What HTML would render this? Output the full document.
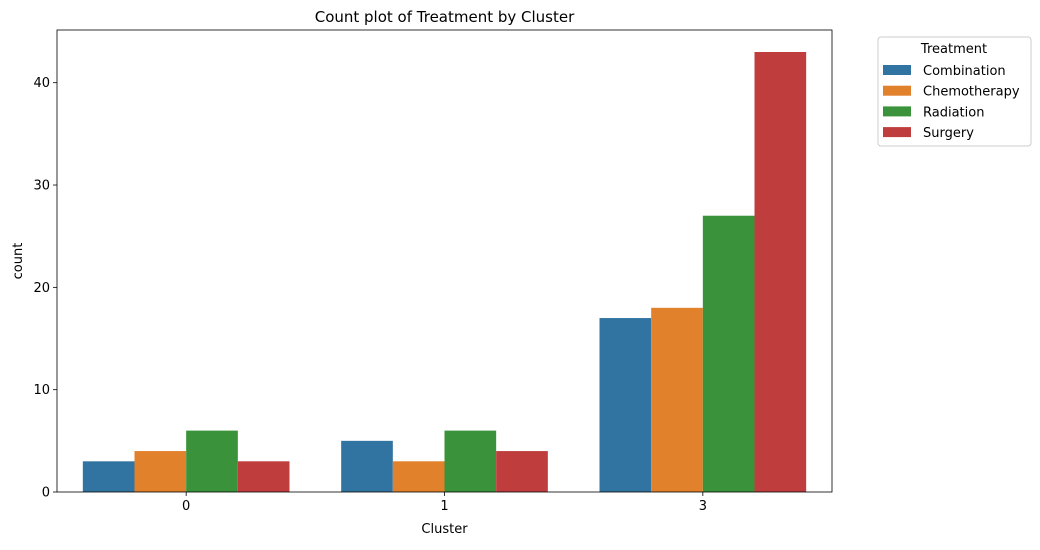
<!DOCTYPE html>
<html><head><meta charset="utf-8"><style>
body{margin:0;background:#fff;font-family:"Liberation Sans","DejaVu Sans",sans-serif}
svg text{font-family:"DejaVu Sans","Liberation Sans",sans-serif;fill:#000}
</style></head><body>
<svg id="chart" width="1040" height="545" xmlns="http://www.w3.org/2000/svg"></svg>
<script>
const categories = ["0", "1", "3"];
const seriesNames = ["Combination", "Chemotherapy", "Radiation", "Surgery"];
const combination = [3, 5, 17];
const chemotherapy = [4, 3, 18];
const radiation = [6, 6, 27];
const surgery = [3, 4, 43];
const yTicks = [0, 10, 20, 30, 40];
const colors = ["#3274a1", "#e1812c", "#3a923a", "#c03d3e"];
const series = [combination, chemotherapy, radiation, surgery];

const svg = document.getElementById('chart');
const NS = 'http://www.w3.org/2000/svg';
const L = 57, R = 832, T = 30, B = 492;
const yMax = 45.15;
function y(v){ return B - v / yMax * (B - T); }
const step = (R - L) / categories.length;
function xc(i){ return L + step * (i + 0.5); }
const groupW = step * 0.8, barW = groupW / series.length;

function mk(tag, attrs, parent){
  const e = document.createElementNS(NS, tag);
  for (const k in attrs) e.setAttribute(k, attrs[k]);
  (parent || svg).appendChild(e);
  return e;
}

// bars
series.forEach((s, si) => {
  s.forEach((v, ci) => {
    const r = mk('rect', {x: xc(ci) - groupW/2 + si*barW, y: y(v), width: barW, height: y(0) - y(v), fill: colors[si]});
    
    
  });
});

// axes frame
const frame = mk('rect', {x: L, y: T, width: R - L, height: B - T, fill: 'none', stroke: '#000', 'stroke-width': 0.8});



// y ticks
yTicks.forEach(t => {
  mk('line', {x1: L - 4, x2: L, y1: y(t), y2: y(t), stroke: '#000', 'stroke-width': 0.8});
  const tx = mk('text', {x: L - 7, y: y(t) + 4.5, 'text-anchor': 'end', 'font-size': 13});
  tx.textContent = t;
  
  
});
// x ticks
categories.forEach((c, i) => {
  mk('line', {x1: xc(i), x2: xc(i), y1: B, y2: B + 4, stroke: '#000', 'stroke-width': 0.8});
  const tx = mk('text', {x: xc(i), y: B + 18, 'text-anchor': 'middle', 'font-size': 13});
  tx.textContent = c;
  
  
});

const xt = mk('text', {x: (L + R)/2, y: 533, 'text-anchor': 'middle', 'font-size': 13});
xt.textContent = 'Cluster';



const yt = mk('text', {x: 22, y: (T + B)/2, 'text-anchor': 'middle', 'font-size': 13, transform: 'rotate(-90 22 ' + (T + B)/2 + ')'});
yt.textContent = 'count';



const tt = mk('text', {x: (L + R)/2, y: 22, 'text-anchor': 'middle', 'font-size': 15});
tt.textContent = 'Count plot of Treatment by Cluster';



// legend
const lg = mk('g', {});


mk('rect', {x: 878, y: 37, width: 153, height: 109, rx: 3, fill: '#fff', stroke: '#ccc', 'stroke-width': 1}, lg);
const lt = mk('text', {x: 954, y: 53, 'text-anchor': 'middle', 'font-size': 13}, lg);
lt.textContent = 'Treatment';


seriesNames.forEach((n, i) => {
  const g = mk('g', {}, lg);
  
  
  const yy = 70 + i * 20.7;
  mk('rect', {x: 883, y: yy - 5, width: 28, height: 10, fill: colors[i]}, g);
  const t = mk('text', {x: 923, y: yy + 5, 'font-size': 13}, g);
  t.textContent = n;
});
</script>
</body></html>
